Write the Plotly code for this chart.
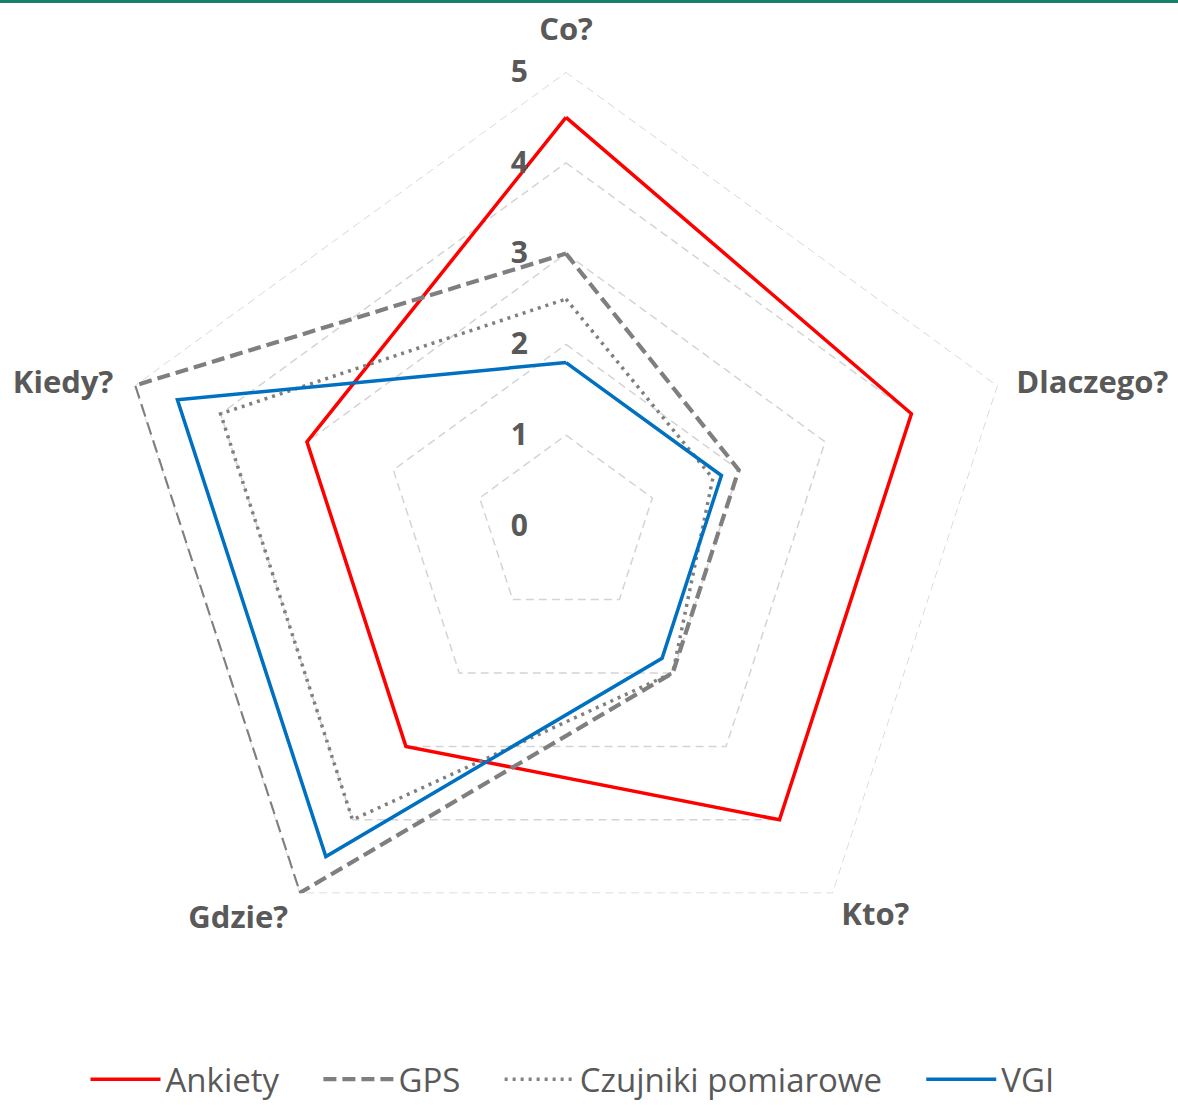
import plotly.graph_objects as go

# Question categories around the radar, clockwise from the top
categories = ["Co?", "Dlaczego?", "Kto?", "Gdzie?", "Kiedy?"]

# Scores per data source (0-5 scale)
ankiety = [4.5, 4.0, 4.0, 3.0, 3.0]
gps = [3.0, 2.0, 2.0, 5.0, 5.0]
czujniki = [2.5, 1.7, 2.0, 4.0, 4.0]
vgi = [1.8, 1.8, 1.8, 4.5, 4.5]

# Radial scale
tick_values = [0, 1, 2, 3, 4, 5]
grid_levels = [1, 2, 3, 4, 5]

TEXT = "#595959"
FONT = "Open Sans"
GAP = "\u00a0" * 4  # spacing between legend entries


def closed(values):
    return list(values) + [values[0]]


theta = closed(categories)
r_max = max(tick_values)

fig = go.Figure()

# Dashed pentagonal grid, one ring per scale level
for lvl in grid_levels:
    fig.add_trace(go.Scatterpolar(
        r=[lvl] * len(theta), theta=theta, mode="lines",
        line=dict(color="#d4d4d4", width=1.5, dash="8px,5px"),
        hoverinfo="skip", showlegend=False,
    ))

series = [
    ("Ankiety", ankiety, dict(color="#ff0000", width=3.5)),
    ("GPS", gps, dict(color="#7f7f7f", width=4.2, dash="13px,6px")),
    ("Czujniki pomiarowe", czujniki, dict(color="#7f7f7f", width=3.5, dash="3px,5px")),
    ("VGI", vgi, dict(color="#0070c0", width=3.5)),
]
for i, (name, vals, line) in enumerate(series):
    label = name if i == len(series) - 1 else name + GAP
    fig.add_trace(go.Scatterpolar(
        r=closed(vals), theta=theta, mode="lines", name=label, line=line,
    ))

# Category labels just outside the outer ring; an invisible marker sets the gap
fig.add_trace(go.Scatterpolar(
    r=[r_max] * len(categories), theta=categories,
    mode="markers+text", text=categories,
    textposition=["top center", "middle right", "bottom right", "bottom left", "middle left"],
    marker=dict(size=[38, 28, 12, 16, 32], opacity=0),
    textfont=dict(family=FONT, size=31, color=TEXT, weight="bold"),
    hoverinfo="skip", showlegend=False, cliponaxis=False,
))

fig.update_layout(
    width=1178, height=1105,
    margin=dict(l=0, r=0, t=0, b=0, autoexpand=False),
    paper_bgcolor="white", plot_bgcolor="white",
    polar=dict(
        domain=dict(x=[0.09508, 0.86587], y=[0.11312, 0.93484]),
        bgcolor="rgba(0,0,0,0)",
        gridshape="linear",
        radialaxis=dict(
            range=[0, r_max], tickvals=tick_values, angle=90, tickangle=90,
            side="counterclockwise",
            showgrid=False, showline=False,
            ticks="outside", ticklen=27, tickcolor="rgba(0,0,0,0)",
            tickfont=dict(family=FONT, size=30, color=TEXT, weight="bold"),
        ),
        angularaxis=dict(
            rotation=90, direction="clockwise",
            showgrid=False, showline=False, ticks="", showticklabels=False,
        ),
    ),
    legend=dict(
        orientation="h", x=0.486, xanchor="center", y=-0.002, yanchor="bottom",
        font=dict(family=FONT, size=33, color=TEXT),
        itemwidth=70, bgcolor="rgba(0,0,0,0)",
    ),
    shapes=[dict(type="rect", xref="paper", yref="paper",
                 x0=0, x1=1, y0=0.9973, y1=1.0,
                 fillcolor="#17806b", line=dict(width=0))],
)

fig.write_html("out.html")
